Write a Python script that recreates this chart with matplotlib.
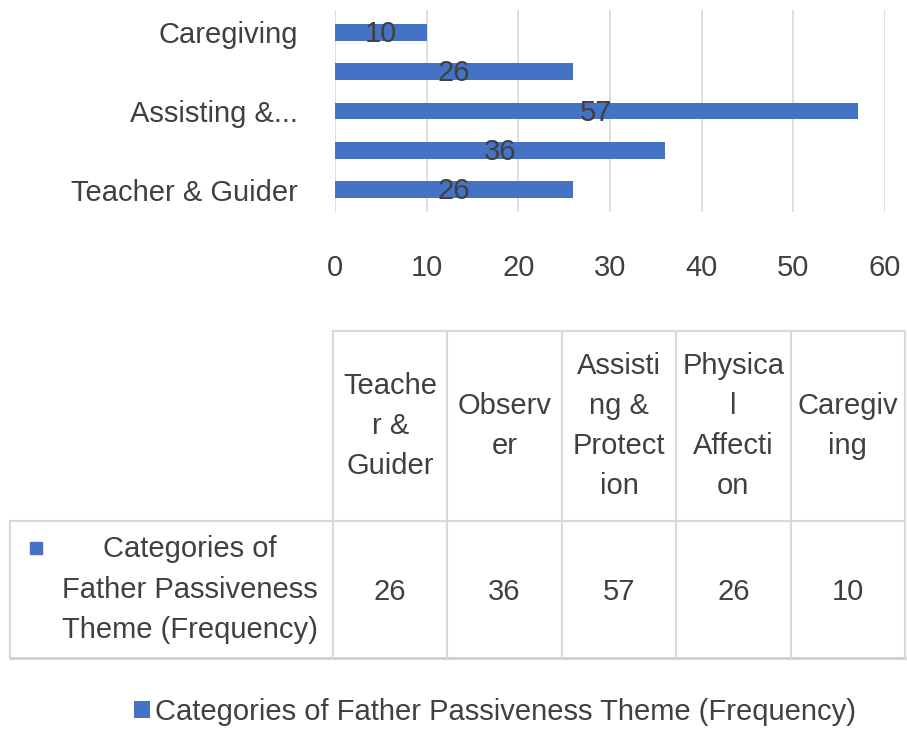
import matplotlib.pyplot as plt
import numpy as np

# данные
categories = ['Teacher & Guider', 'Observer', 'Assisting & Protection',
              'Physical Affection', 'Caregiving']
values = [26, 36, 57, 26, 10]
shown_labels = ['Teacher & Guider', '', 'Assisting &...', '', 'Caregiving']
header_labels = ['Teache\nr &\nGuider', 'Observ\ner', 'Assisti\nng &\nProtect\nion',
                 'Physica\nl\nAffecti\non', 'Caregiv\ning']
series_name = 'Categories of Father Passiveness Theme (Frequency)'
row_label = 'Categories of\nFather Passiveness\nTheme (Frequency)'
x_ticks = [0, 10, 20, 30, 40, 50, 60]

bar_color = '#4472C4'
text_color = '#404040'
grid_color = '#D9D9D9'
fs = 21

plt.rcParams['font.family'] = ['Liberation Sans', 'DejaVu Sans']

fig = plt.figure(figsize=(9.07, 7.54), dpi=100)
W, H = 907, 754

# основной график
ax = fig.add_axes([335 / W, 1 - 212 / H, 550 / W, 202 / H])
y = np.arange(len(categories))
bars = ax.barh(y, values, height=0.43, color=bar_color, label=series_name, zorder=3)
for yi, v in zip(y, values):
    ax.text(v / 2, yi - 0.04, str(v), ha='center', va='center',
            fontsize=fs, color=text_color, zorder=4)

ax.set_xlim(0, 60)
ax.set_ylim(-0.56, 4.56)
ax.set_xticks(x_ticks)
ax.set_xticklabels([str(t) for t in x_ticks])
ax.set_yticks(y)
ax.set_yticklabels(shown_labels)
ax.tick_params(axis='x', length=0, pad=30, labelsize=fs, labelcolor=text_color)
ax.tick_params(axis='y', length=0, pad=27, labelsize=fs, labelcolor=text_color)
ax.grid(axis='x', color=grid_color, linewidth=1.2, zorder=0)
for s in ax.spines.values():
    s.set_visible(False)

# таблица данных
tab = fig.add_axes([0, 0, 1, 1])
tab.set_xlim(0, W)
tab.set_ylim(H, 0)
tab.axis('off')

col_edges = np.linspace(333, 905, len(categories) + 1)
top, mid, bot, left = 331, 521, 658, 10
line_kw = dict(color=grid_color, linewidth=1.5)
tab.plot([col_edges[0], col_edges[-1]], [top, top], **line_kw)
tab.plot([left, col_edges[-1]], [mid, mid], **line_kw)
tab.plot([left, col_edges[-1]], [bot, bot], color='#CFCFCF', linewidth=2)
tab.plot([left, left], [mid, bot], **line_kw)
for xe in col_edges:
    tab.plot([xe, xe], [top, bot], **line_kw)

centers = (col_edges[:-1] + col_edges[1:]) / 2
for cx, lab, v in zip(centers, header_labels, values):
    tab.text(cx, (top + mid) / 2, lab, ha='center', va='center', fontsize=fs,
             color=text_color, linespacing=1.55)
    tab.text(cx, (mid + bot) / 2 + 3, str(v), ha='center', va='center',
             fontsize=fs, color=text_color)

tab.text(190, (mid + bot) / 2, row_label, ha='center', va='center', fontsize=fs,
         color=text_color, linespacing=1.55)
tab.scatter([36], [548], marker='s', s=80, color=bar_color)

# легенда
fig.legend(handles=[bars], labels=[series_name], loc='center',
           bbox_to_anchor=(495 / W, 1 - 712 / H), frameon=False, fontsize=fs,
           labelcolor=text_color, handlelength=0.55, handleheight=0.55,
           handletextpad=0.2)

plt.savefig('out.png', dpi=100)
